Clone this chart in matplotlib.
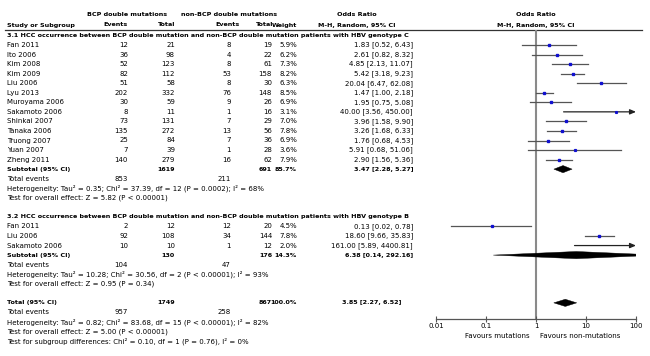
import matplotlib
matplotlib.use("Agg")
import matplotlib.pyplot as plt
from matplotlib.patches import Polygon

# ---------------- data ----------------
sec1_title = "3.1 HCC occurrence between BCP double mutation and non-BCP double mutation patients with HBV genotype C"
sec1_names = ["Fan 2011", "Ito 2006", "Kim 2008", "Kim 2009", "Liu 2006", "Lyu 2013", "Muroyama 2006",
              "Sakamoto 2006", "Shinkai 2007", "Tanaka 2006", "Truong 2007", "Yuan 2007", "Zheng 2011"]
sec1_bcp_ev = [12, 36, 52, 82, 51, 202, 30, 8, 73, 135, 25, 7, 140]
sec1_bcp_tot = [21, 98, 123, 112, 58, 332, 59, 11, 131, 272, 84, 39, 279]
sec1_non_ev = [8, 4, 8, 53, 8, 76, 9, 1, 7, 13, 7, 1, 16]
sec1_non_tot = [19, 22, 61, 158, 30, 148, 26, 16, 29, 56, 36, 28, 62]
sec1_weight = [5.9, 6.2, 7.3, 8.2, 6.3, 8.5, 6.9, 3.1, 7.0, 7.8, 6.9, 3.6, 7.9]
sec1_or = [1.83, 2.61, 4.85, 5.42, 20.04, 1.47, 1.95, 40.00, 3.96, 3.26, 1.76, 5.91, 2.90]
sec1_lo = [0.52, 0.82, 2.13, 3.18, 6.47, 1.00, 0.75, 3.56, 1.58, 1.68, 0.68, 0.68, 1.56]
sec1_hi = [6.43, 8.32, 11.07, 9.23, 62.08, 2.18, 5.08, 450.00, 9.90, 6.33, 4.53, 51.06, 5.36]
sec1_sub = {"bcp_tot": 1619, "non_tot": 691, "weight": 85.7, "or": 3.47, "lo": 2.28, "hi": 5.27,
            "bcp_ev": 853, "non_ev": 211}
sec1_het = "Heterogeneity: Tau\u00b2 = 0.35; Chi\u00b2 = 37.39, df = 12 (P = 0.0002); I\u00b2 = 68%"
sec1_test = "Test for overall effect: Z = 5.82 (P < 0.00001)"

sec2_title = "3.2 HCC occurrence between BCP double mutation and non-BCP double mutation patients with HBV genotype B"
sec2_names = ["Fan 2011", "Liu 2006", "Sakamoto 2006"]
sec2_bcp_ev = [2, 92, 10]
sec2_bcp_tot = [12, 108, 10]
sec2_non_ev = [12, 34, 1]
sec2_non_tot = [20, 144, 12]
sec2_weight = [4.5, 7.8, 2.0]
sec2_or = [0.13, 18.60, 161.00]
sec2_lo = [0.02, 9.66, 5.89]
sec2_hi = [0.78, 35.83, 4400.81]
sec2_sub = {"bcp_tot": 130, "non_tot": 176, "weight": 14.3, "or": 6.38, "lo": 0.14, "hi": 292.16,
            "bcp_ev": 104, "non_ev": 47}
sec2_het = "Heterogeneity: Tau\u00b2 = 10.28; Chi\u00b2 = 30.56, df = 2 (P < 0.00001); I\u00b2 = 93%"
sec2_test = "Test for overall effect: Z = 0.95 (P = 0.34)"

total = {"bcp_tot": 1749, "non_tot": 867, "weight": 100.0, "or": 3.85, "lo": 2.27, "hi": 6.52,
         "bcp_ev": 957, "non_ev": 258}
total_het = "Heterogeneity: Tau\u00b2 = 0.82; Chi\u00b2 = 83.68, df = 15 (P < 0.00001); I\u00b2 = 82%"
total_test = "Test for overall effect: Z = 5.00 (P < 0.00001)"
subgroup_test = "Test for subgroup differences: Chi\u00b2 = 0.10, df = 1 (P = 0.76), I\u00b2 = 0%"

xticks = [0.01, 0.1, 1, 10, 100]
xtick_labels = ["0.01", "0.1", "1", "10", "100"]
fav_left = "Favours mutations"
fav_right = "Favours non-mutations"

# ---------------- layout ----------------
W, H = 650, 356
FS = 5.0
FSB = 4.6
FONT = "DejaVu Sans"
plt.rcParams["font.family"] = FONT

fig = plt.figure(figsize=(W / 100, H / 100), dpi=100)
fig.patch.set_facecolor("white")
at = fig.add_axes([0, 0, 1, 1])
at.set_xlim(0, W)
at.set_ylim(H, 0)
at.axis("off")

X_NAME = 7
X_BEV = 128
X_BTOT = 175
X_NEV = 231
X_NTOT = 272
X_W = 297
X_CI = 413
X_CI_TOTAL = 401

Y0 = 45.0
DY = 9.55


def ry(i):
    return Y0 + DY * i


def txt(x, y, s, ha="left", bold=False):
    at.text(x, y, s, ha=ha, va="center", fontsize=FSB if bold else FS,
            fontweight="bold" if bold else "normal", color="black")


def fmt_ci(o, l, h):
    return f"{o:.2f} [{l:.2f}, {h:.2f}]"


# headers
txt(127, 14.5, "BCP double mutations", ha="center", bold=True)
txt(229, 14.5, "non-BCP double mutations", ha="center", bold=True)
txt(357, 14.5, "Odds Ratio", ha="center", bold=True)
txt(536, 14.5, "Odds Ratio", ha="center", bold=True)
txt(X_NAME, 25, "Study or Subgroup", bold=True)
txt(X_BEV, 25, "Events", ha="right", bold=True)
txt(X_BTOT, 25, "Total", ha="right", bold=True)
txt(240, 25, "Events", ha="right", bold=True)
txt(273, 25, "Total", ha="right", bold=True)
txt(X_W, 25, "Weight", ha="right", bold=True)
txt(357, 25, "M-H, Random, 95% CI", ha="center", bold=True)
txt(536, 25, "M-H, Random, 95% CI", ha="center", bold=True)
at.plot([5, 642], [30, 30], color="#333333", lw=0.9)

# forest axes: x in log-OR, y in same pixel rows
AX_L, AX_R = 436, 636
AX_TOP, AX_BOT = 30, 319.3
af = fig.add_axes([AX_L / W, (H - AX_BOT) / H, (AX_R - AX_L) / W, (AX_BOT - AX_TOP) / H])
af.set_xscale("log")
af.set_xlim(0.01, 100)
af.set_ylim(AX_BOT, AX_TOP)
af.patch.set_alpha(0)
for s in ["top", "right", "left"]:
    af.spines[s].set_visible(False)
af.spines["bottom"].set_color("#555555")
af.spines["bottom"].set_linewidth(0.9)
af.set_yticks([])
af.set_xticks(xticks)
af.set_xticklabels(xtick_labels)
af.xaxis.set_minor_locator(matplotlib.ticker.NullLocator())
af.tick_params(axis="x", direction="inout", length=5, width=0.8, color="#555555",
               labelsize=FS, pad=0.5)
af.axvline(1, color="#8a8a8a", lw=1.5, zorder=1)

LINE_C = "#555555"
SQ_C = "#1010d0"


def study_mark(y, o, l, h, w):
    if h > 100:
        af.annotate("", xy=(100, y), xytext=(l, y),
                    arrowprops=dict(arrowstyle="-|>,head_length=0.35,head_width=0.15",
                                    color="#222222", lw=0.9, shrinkA=0, shrinkB=0))
    else:
        af.plot([l, h], [y, y], color=LINE_C, lw=0.9, zorder=2)
    if o <= 100:
        af.plot([o], [y], marker="s", ms=0.9 + w * 0.11, color=SQ_C, mec=SQ_C, lw=0, zorder=3)


def diamond(y, o, l, h):
    hh = 3.6
    poly = Polygon([(l, y), (o, y - hh), (h, y), (o, y + hh)], closed=True,
                   facecolor="black", edgecolor="black", lw=0.3, zorder=3)
    af.add_patch(poly)


def section(start, title, names, bev, btot, nev, ntot, wt, ors, los, his, sub, het, test):
    txt(X_NAME, ry(start - 1), title, bold=True)
    for k, nm in enumerate(names):
        y = ry(start + k)
        txt(X_NAME, y, nm)
        txt(X_BEV, y, str(bev[k]), ha="right")
        txt(X_BTOT, y, str(btot[k]), ha="right")
        txt(X_NEV, y, str(nev[k]), ha="right")
        txt(X_NTOT, y, str(ntot[k]), ha="right")
        txt(X_W, y, f"{wt[k]:.1f}%", ha="right")
        txt(X_CI, y, fmt_ci(ors[k], los[k], his[k]), ha="right")
        study_mark(y, ors[k], los[k], his[k], wt[k])
    i = start + len(names)
    y = ry(i)
    txt(X_NAME, y, "Subtotal (95% CI)", bold=True)
    txt(X_BTOT, y, str(sub["bcp_tot"]), ha="right", bold=True)
    txt(X_NTOT, y, str(sub["non_tot"]), ha="right", bold=True)
    txt(X_W, y, f"{sub['weight']:.1f}%", ha="right", bold=True)
    txt(X_CI, y, fmt_ci(sub["or"], sub["lo"], sub["hi"]), ha="right", bold=True)
    diamond(y, sub["or"], sub["lo"], sub["hi"])
    y = ry(i + 1)
    txt(X_NAME, y, "Total events")
    txt(X_BEV, y, str(sub["bcp_ev"]), ha="right")
    txt(X_NEV, y, str(sub["non_ev"]), ha="right")
    txt(X_NAME, ry(i + 2), het)
    txt(X_NAME, ry(i + 3), test)


section(0, sec1_title, sec1_names, sec1_bcp_ev, sec1_bcp_tot, sec1_non_ev, sec1_non_tot,
        sec1_weight, sec1_or, sec1_lo, sec1_hi, sec1_sub, sec1_het, sec1_test)
section(19, sec2_title, sec2_names, sec2_bcp_ev, sec2_bcp_tot, sec2_non_ev, sec2_non_tot,
        sec2_weight, sec2_or, sec2_lo, sec2_hi, sec2_sub, sec2_het, sec2_test)

# overall
yt = ry(27)
txt(X_NAME, yt, "Total (95% CI)", bold=True)
txt(X_BTOT, yt, str(total["bcp_tot"]), ha="right", bold=True)
txt(X_NTOT, yt, str(total["non_tot"]), ha="right", bold=True)
txt(X_W, yt, f"{total['weight']:.1f}%", ha="right", bold=True)
txt(X_CI_TOTAL, yt, fmt_ci(total["or"], total["lo"], total["hi"]), ha="right", bold=True)
diamond(yt, total["or"], total["lo"], total["hi"])
txt(X_NAME, ry(28), "Total events")
txt(X_BEV, ry(28), str(total["bcp_ev"]), ha="right")
txt(X_NEV, ry(28), str(total["non_ev"]), ha="right")
txt(X_NAME, ry(29), total_het)
txt(X_NAME, ry(30), total_test)
txt(X_NAME, ry(31), subgroup_test)

# favours labels
txt(530, 335.5, fav_left, ha="right")
txt(540, 335.5, fav_right, ha="left")

fig.savefig("out.png", dpi=100, facecolor="white")
